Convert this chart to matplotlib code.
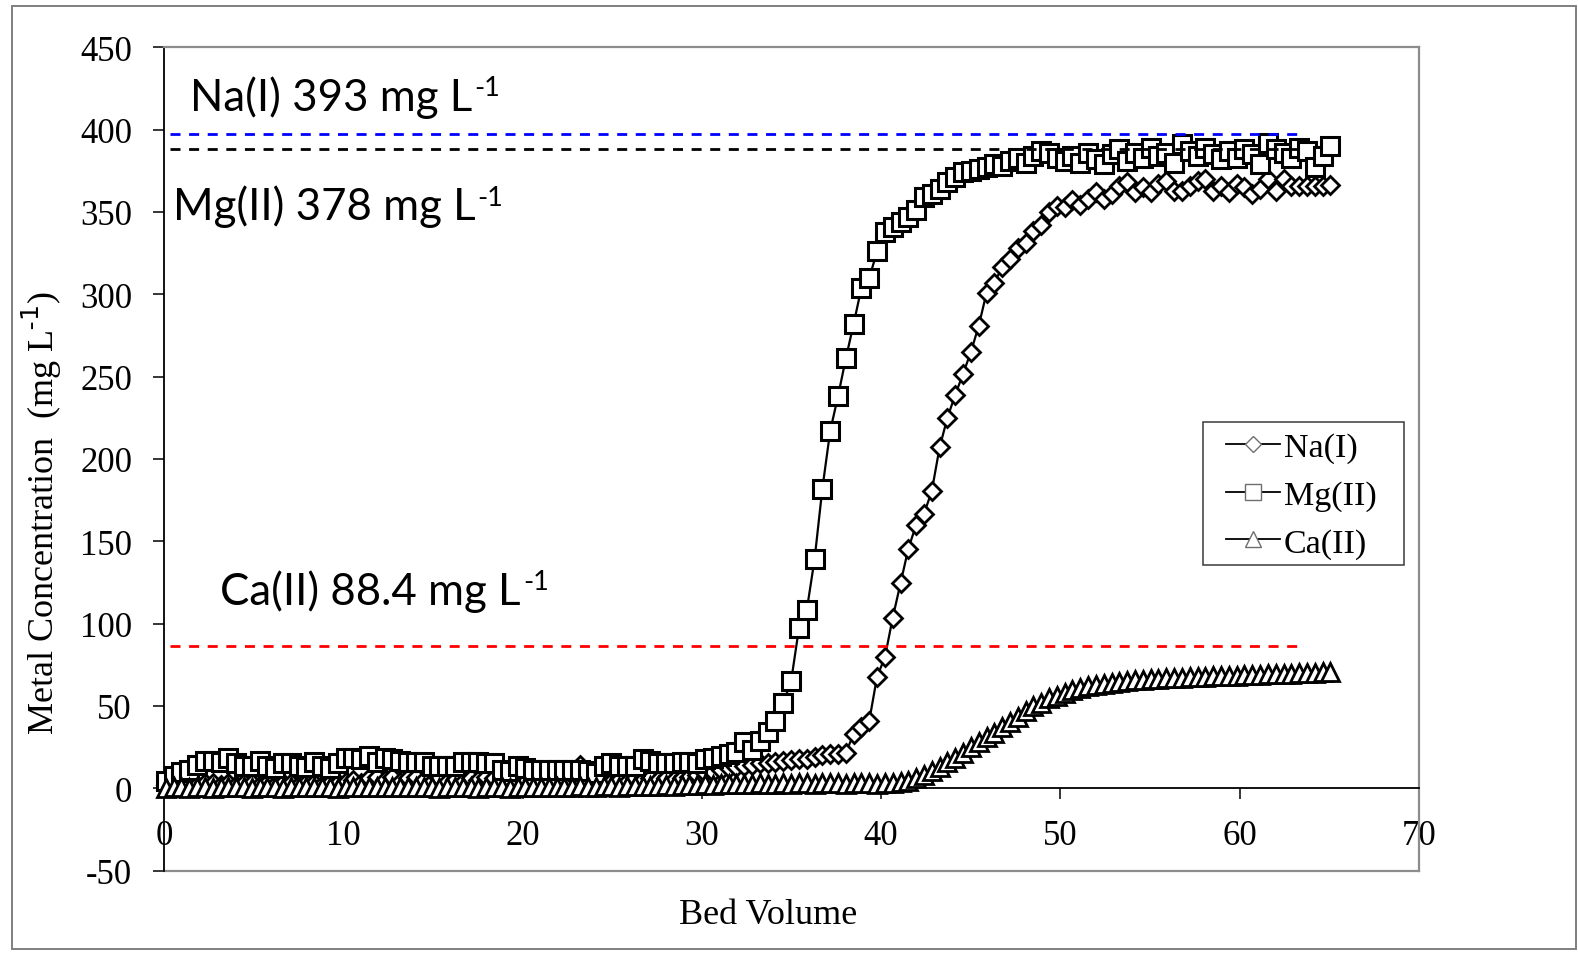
import numpy as np
import matplotlib
matplotlib.use("Agg")
import matplotlib.pyplot as plt
from matplotlib.lines import Line2D
from matplotlib.patches import Rectangle

# ---------------- data ----------------
bed_volume = np.round(np.linspace(0.1, 65.06, 150), 3)

na_conc = [
    2, 3, 2, 3, 2, 3, 3, 2, 3, 2,
    3, 3, 2, 3, 2, 3, 3, 2, 3, 3,
    2, 3, 3, 4, 5, 3, 6, 7, 5, 7,
    4, 6, 7, 5, 4, 6, 4, 5, 4, 6,
    5, 7, 6, 4, 5, 3, 4, 5, 3, 4,
    4, 4, 8, 14, 10, 5, 4, 4, 5, 4,
    6, 5, 6, 5, 6, 5, 6, 7, 8, 9,
    10, 11, 12, 13, 13.5, 14, 15, 15.5, 16, 16.5,
    17, 17.5, 18, 19, 20, 20.5, 21, 21.4, 33, 37,
    41, 67.8, 79.5, 103.5, 124.5, 145.5, 160, 166.6, 180.5, 207,
    225, 239, 251.6, 265, 280.7, 300.8, 307, 316.4, 321.5, 328,
    331, 338.7, 342, 349.8, 353.5, 352.9, 357, 354, 358, 362,
    358, 361, 366, 368, 362, 365, 362, 367, 369, 363,
    363, 366, 369, 370, 363, 366, 362, 367, 365, 361,
    364, 370, 363, 370, 366, 366, 366, 366, 366, 366.5,
]

mg_conc = [
    4.6, 7.6, 9.6, 11.3, 14.3, 16.3, 16.5, 16.0, 18.3, 15.5,
    13.3, 13.3, 16.3, 13.5, 12.5, 15.5, 15.0, 13.5, 13.0, 15.8,
    13.5, 12.5, 15.5, 18.3, 18.3, 18.0, 19.4, 15.8, 18.3, 18.0,
    16.3, 15.8, 15.8, 15.8, 13.5, 13.3, 13.5, 13.5, 15.8, 15.8,
    15.8, 15.5, 15.0, 11.3, 10.3, 13.3, 12.5, 11.3, 11.3, 11.3,
    11.3, 11.3, 11.3, 11.3, 10.3, 9.3, 13.3, 15.5, 13.5, 13.3,
    13.3, 17.5, 16.3, 15.5, 15.5, 15.5, 15.8, 15.8, 15.5, 17.5,
    18.5, 19.7, 20.8, 21.8, 28.2, 23.4, 28.9, 34.3, 40.6, 51.8,
    65, 97, 108, 139, 182, 217, 238, 261, 282, 304,
    310, 326, 338, 341, 344, 347, 351, 359, 361, 364,
    368, 371, 374, 375, 376, 377, 379, 378, 381, 383,
    380, 384, 387, 386, 383, 381, 384, 380, 386, 382,
    379, 385, 388, 381, 386, 383, 389, 384, 386, 380,
    391, 387, 384, 389, 385, 382, 387, 383, 388, 385,
    379, 392, 388, 386, 383, 389, 387, 377, 384, 390,
]

ca_conc = [
    0, 0.5, 0.5, 0, 0.5, 0.5, 0, 0.5, 0.5, 0.5,
    0.5, 0, 0.5, 0.5, 0.5, 0, 0.5, 0.5, 0.5, 0.5,
    0.5, 0.5, 0, 0.5, 0.5, 1, 0.5, 0.5, 1, 0.5,
    0.5, 1, 0.5, 0.5, 0.5, 0, 0.5, 0.5, 0.5, 0.5,
    0, 0.5, 0.5, 0.5, 0, 0.5, 0.5, 0.5, 1, 1,
    1, 1, 1, 1.5, 1, 1, 1.5, 1.5, 1, 1.5,
    1.5, 1.5, 1.5, 1.5, 2, 1.5, 2, 2, 2, 2.5,
    2, 2.5, 2.5, 2.5, 2.5, 2.5, 3, 2.5, 2.5, 3,
    2.5, 3, 3, 2.5, 3, 3, 3, 2.5, 3, 3,
    3, 2.5, 3, 3, 3.5, 4.5, 6, 8, 10.5, 13,
    16, 18.5, 21.5, 25, 28, 31, 33.5, 37, 40, 43.5,
    47, 50, 52, 54.5, 56, 58, 59.5, 61, 62, 62.5,
    63.5, 64, 64.5, 65, 65.5, 66, 66.3, 66.5, 66.8, 67,
    67.2, 67.4, 67.6, 67.8, 68, 68.2, 68.3, 68.4, 68.6, 68.8,
    69, 69.1, 69.3, 69.5, 69.6, 69.8, 70, 70.1, 70.3, 70.4,
]

series_labels = ["Na(I)", "Mg(II)", "Ca(II)"]

feed_levels = [397.5, 388.0, 86.5]
feed_colors = ["#0000ff", "#000000", "#ff0000"]
feed_texts = ["Na(I) 393 mg L", "Mg(II) 378 mg L", "Ca(II) 88.4 mg L"]
feed_sup = "-1"
feed_text_pos = [(1.45, 412.0), (0.5, 345.5), (3.15, 112.0)]
feed_line_span = (0.35, 63.4)

x_ticks = [0, 10, 20, 30, 40, 50, 60, 70]
y_ticks = [-50, 0, 50, 100, 150, 200, 250, 300, 350, 400, 450]

# ---------------- figure ----------------
plt.rcParams["axes.unicode_minus"] = False
SERIF = "Liberation Serif"
W, H = 1578, 954
fig = plt.figure(figsize=(W / 100, H / 100), dpi=100)

L, R, T, B = 164, 1419, 48.3, 871.5
ax = fig.add_axes([L / W, 1 - B / H, (R - L) / W, (B - T) / H])
ax.set_xlim(0, 70)
ax.set_ylim(-50, 450)

# series (Excel order: later series on top)
ax.plot(bed_volume, na_conc, color="black", lw=1.6, marker="D", ms=9.3,
        mfc="white", mec="black", mew=2.0, clip_on=False, zorder=3)
ax.plot(bed_volume, mg_conc, color="black", lw=1.6, marker="s", ms=12.3,
        mfc="white", mec="black", mew=2.2, clip_on=False, zorder=3.1)
ax.plot(bed_volume, ca_conc, color="black", lw=1.6, marker="^", ms=13,
        mfc="white", mec="black", mew=2.0, clip_on=False, zorder=3.2)

# feed concentration reference lines and labels
for lvl, col in zip(feed_levels, feed_colors):
    ax.hlines(lvl, feed_line_span[0], feed_line_span[1], colors=col,
              linestyles=(0, (3.6, 3.1)), lw=2.0, zorder=4)
for txt, (tx, ty) in zip(feed_texts, feed_text_pos):
    t = ax.text(tx, ty, txt, fontsize=31.5, family="Lato", ha="left",
                va="baseline", color="black", zorder=5)
    ax.annotate(feed_sup, xy=(1.0, 1.0), xycoords=t, xytext=(1.5, 0),
                textcoords="offset points", fontsize=19.5, family="Lato",
                ha="left", va="top", zorder=5)

# spines / frame
ax.spines["bottom"].set_position(("data", 0))
ax.spines["bottom"].set_color("black")
ax.spines["bottom"].set_linewidth(1.3)
ax.spines["left"].set_color("black")
ax.spines["left"].set_linewidth(1.3)
for s in ["top", "right"]:
    ax.spines[s].set_color("#8c8c8c")
    ax.spines[s].set_linewidth(1.6)
ax.plot([0, 1], [0, 0], transform=ax.transAxes, color="#8c8c8c", lw=1.6,
        clip_on=False, zorder=2)

ax.set_xticks(x_ticks)
ax.set_yticks(y_ticks)
ax.set_xticklabels([str(v) for v in x_ticks])
ax.set_yticklabels([str(v) for v in y_ticks])
ax.tick_params(axis="x", direction="out", length=8, width=1.1, pad=14,
               labelsize=25, colors="black")
ax.tick_params(axis="y", direction="out", length=8, width=1.1, pad=15,
               labelsize=25, colors="black")
for lab in ax.get_xticklabels() + ax.get_yticklabels():
    lab.set_family(SERIF)

ax.set_xlabel("Bed Volume", family=SERIF, fontsize=26)
ax.xaxis.set_label_coords((768 - L) / (R - L), -(916 - B) / (B - T))
ax.xaxis.label.set_verticalalignment("center")
ax.set_ylabel("Metal Concentration  (mg L$^{\\mathregular{\u2010}1}$)",
              family=SERIF, fontsize=26)
ax.yaxis.set_label_coords((42 - L) / (R - L), (B - 513) / (B - T))
ax.yaxis.label.set_verticalalignment("center")

# legend
handles = [
    Line2D([], [], color="black", lw=1.3, marker="D", ms=8, mfc="white",
           mec="#6e6e6e", mew=1.0),
    Line2D([], [], color="black", lw=1.3, marker="s", ms=12, mfc="white",
           mec="#6e6e6e", mew=1.0),
    Line2D([], [], color="black", lw=1.3, marker="^", ms=12, mfc="white",
           mec="#6e6e6e", mew=1.0),
]
leg = fig.legend(handles, series_labels, loc="upper left",
                 bbox_to_anchor=(1226 / W, 1 - 433 / H),
                 frameon=False, borderpad=0, borderaxespad=0,
                 handlelength=1.58, handletextpad=0.12, labelspacing=0.49,
                 prop={"family": SERIF, "size": 24.5})
fig.add_artist(Rectangle((1202.7 / W, 1 - 565.7 / H), 201.3 / W, 142.4 / H,
                         transform=fig.transFigure, fill=False,
                         edgecolor="#3a3a3a", lw=1.1, zorder=10))

# outer border of the picture
fig.add_artist(Rectangle((12 / W, 1 - 950 / H), 1564 / W, 943 / H,
                         transform=fig.transFigure, fill=False,
                         edgecolor="#7f7f7f", lw=1.4, zorder=0))

fig.savefig("out.png", dpi=100)
